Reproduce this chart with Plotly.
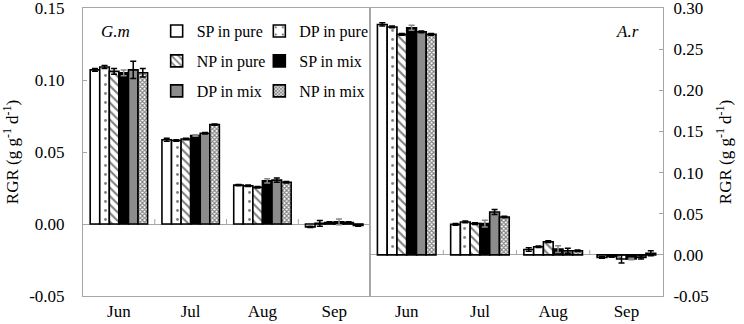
import plotly.graph_objects as go

months = ["Jun", "Jul", "Aug", "Sep"]
series_names = ["SP in pure", "DP in pure", "NP in pure", "SP in mix", "DP in mix", "NP in mix"]

# G.m (left axis)
gm_sp_pure = [0.107, 0.0585, 0.027, -0.002]
gm_dp_pure = [0.109, 0.058, 0.0265, 0.0005]
gm_np_pure = [0.106, 0.059, 0.0255, 0.001]
gm_sp_mix = [0.105, 0.0615, 0.030, 0.0015]
gm_dp_mix = [0.107, 0.063, 0.0305, 0.001]
gm_np_mix = [0.105, 0.069, 0.029, -0.001]
gm_err_sp_pure = [0.001, 0.001, 0.0005, 0.0005]
gm_err_dp_pure = [0.001, 0.0005, 0.0005, 0.002]
gm_err_np_pure = [0.002, 0.0005, 0.0005, 0.0005]
gm_err_sp_mix = [0.002, 0.0005, 0.0015, 0.002]
gm_err_dp_mix = [0.006, 0.0005, 0.0015, 0.0005]
gm_err_np_mix = [0.003, 0.0005, 0.0005, 0.0005]

# A.r (right axis)
ar_sp_pure = [0.280, 0.037, 0.0065, -0.003]
ar_dp_pure = [0.277, 0.040, 0.0098, -0.002]
ar_np_pure = [0.268, 0.038, 0.016, -0.005]
ar_sp_mix = [0.276, 0.038, 0.007, -0.005]
ar_dp_mix = [0.271, 0.052, 0.005, -0.003]
ar_np_mix = [0.268, 0.046, 0.005, 0.002]
ar_err_sp_pure = [0.002, 0.001, 0.002, 0.001]
ar_err_dp_pure = [0.001, 0.001, 0.001, 0.001]
ar_err_np_pure = [0.001, 0.001, 0.001, 0.005]
ar_err_sp_mix = [0.003, 0.004, 0.004, 0.001]
ar_err_dp_mix = [0.001, 0.003, 0.003, 0.002]
ar_err_np_mix = [0.001, 0.001, 0.001, 0.003]

left_tickvals = [-0.05, 0.0, 0.05, 0.10, 0.15]
left_ticktext = ["-0.05", "0.00", "0.05", "0.10", "0.15"]
right_tickvals = [-0.05, 0.0, 0.05, 0.10, 0.15, 0.20, 0.25, 0.30]
right_ticktext = ["-0.05", "0.00", "0.05", "0.10", "0.15", "0.20", "0.25", "0.30"]

gm_values = [gm_sp_pure, gm_dp_pure, gm_np_pure, gm_sp_mix, gm_dp_mix, gm_np_mix]
gm_errors = [gm_err_sp_pure, gm_err_dp_pure, gm_err_np_pure, gm_err_sp_mix, gm_err_dp_mix, gm_err_np_mix]
ar_values = [ar_sp_pure, ar_dp_pure, ar_np_pure, ar_sp_mix, ar_dp_mix, ar_np_mix]
ar_errors = [ar_err_sp_pure, ar_err_dp_pure, ar_err_np_pure, ar_err_sp_mix, ar_err_dp_mix, ar_err_np_mix]

FONT = "Liberation Serif, serif"
GRID = "#a6a6a6"

styles = [
    dict(color="white", pattern=None, err="black"),
    dict(color="white", pattern=dict(shape=".", fgcolor="black", bgcolor="white", size=9, solidity=0.08), err="black"),
    dict(color="white", pattern=dict(shape="\\", fgcolor="black", bgcolor="white", size=6, solidity=0.35), err="black"),
    dict(color="black", pattern=None, err="#8a8a8a"),
    dict(color="#8c8c8c", pattern=None, err="black"),
    dict(color="white", pattern=dict(shape="x", fgcolor="black", bgcolor="white", size=3, solidity=0.6), err="black"),
]
legend_ids = ["legend", "legend2", "legend3", "legend4", "legend5", "legend6"]

fig = go.Figure()
for panel, (vals_all, errs_all, xa, ya) in enumerate([
    (gm_values, gm_errors, "x", "y"),
    (ar_values, ar_errors, "x2", "y2"),
]):
    for i, name in enumerate(series_names):
        st = styles[i]
        marker = dict(color=st["color"], line=dict(color="black", width=1.6))
        if st["pattern"] is not None:
            marker["pattern"] = st["pattern"]
        fig.add_trace(go.Bar(
            x=months, y=vals_all[i], name=name,
            marker=marker,
            error_y=dict(type="data", array=errs_all[i], color=st["err"], thickness=1.5, width=3),
            xaxis=xa, yaxis=ya,
            legendgroup=name, showlegend=(panel == 0),
            legend=legend_ids[i],
        ))

def axis_common():
    return dict(showline=True, linecolor=GRID, linewidth=1, mirror=True, automargin=False,
                showgrid=False, tickfont=dict(family=FONT, size=17, color="black"))

title_text = "RGR (g g<sup>-1</sup> d<sup>-1</sup>)"

fig.update_layout(
    width=744, height=324,
    margin=dict(l=83, r=81, t=8, b=28),
    paper_bgcolor="white", plot_bgcolor="white",
    font=dict(family=FONT, size=16, color="black"),
    barmode="group", bargap=0.2, bargroupgap=0,
    xaxis=dict(domain=[0, 0.495], anchor="y", ticks="", **axis_common()),
    xaxis2=dict(domain=[0.495, 1], anchor="y2", ticks="", **axis_common()),
    yaxis=dict(range=[-0.0500001, 0.1500001], tickvals=left_tickvals, ticktext=left_ticktext,
               ticks="inside", ticklen=4, ticklabeloverflow="allow",
               tickcolor=GRID, zeroline=True, zerolinecolor=GRID, zerolinewidth=1,
               ticklabelstandoff=14,
               title=dict(text=title_text, font=dict(family=FONT, size=17), standoff=10),
               anchor="x", **axis_common()),
    yaxis2=dict(range=[-0.0500001, 0.3000001], tickvals=right_tickvals, ticktext=right_ticktext,
                ticks="inside", ticklen=4, ticklabeloverflow="allow",
                tickcolor=GRID, zeroline=True, zerolinecolor=GRID, zerolinewidth=1,
                side="right", anchor="x2", ticklabelstandoff=6,
                title=dict(text=title_text, font=dict(family=FONT, size=17), standoff=11),
                **axis_common()),
)

leg_common = dict(orientation="v", xanchor="left", yanchor="middle", bgcolor="rgba(0,0,0,0)",
                  font=dict(family=FONT, size=16, color="black"), itemwidth=30,
                  tracegroupgap=0)
col_x = [0.127, 0.304]
row_y = [0.920, 0.816, 0.712]
fig.update_layout(
    legend=dict(x=col_x[0], y=row_y[0], **leg_common),
    legend2=dict(x=col_x[1], y=row_y[0], **leg_common),
    legend3=dict(x=col_x[0], y=row_y[1], **leg_common),
    legend4=dict(x=col_x[1], y=row_y[1], **leg_common),
    legend5=dict(x=col_x[0], y=row_y[2], **leg_common),
    legend6=dict(x=col_x[1], y=row_y[2], **leg_common),
)

fig.add_annotation(text="<i>G.m</i>", xref="paper", yref="paper", x=0.027, y=0.92,
                   xanchor="left", yanchor="middle", showarrow=False,
                   font=dict(family=FONT, size=17, color="black"))
fig.add_annotation(text="<i>A.r</i>", xref="paper", yref="paper", x=0.916, y=0.92,
                   xanchor="left", yanchor="middle", showarrow=False,
                   font=dict(family=FONT, size=17, color="black"))

# small category-boundary ticks on the zero line
for xa, ya in [("x", "y"), ("x2", "y2")]:
    for b in [0.5, 1.5, 2.5]:
        fig.add_shape(type="line", xref=xa, yref=ya, x0=b, x1=b, ysizemode="pixel",
                      yanchor=0, y0=0, y1=5, line=dict(color=GRID, width=1))

fig.write_html("out.html", config={"displayModeBar": False},
               post_script="document.body.style.margin='0';document.body.style.overflow='hidden';")
